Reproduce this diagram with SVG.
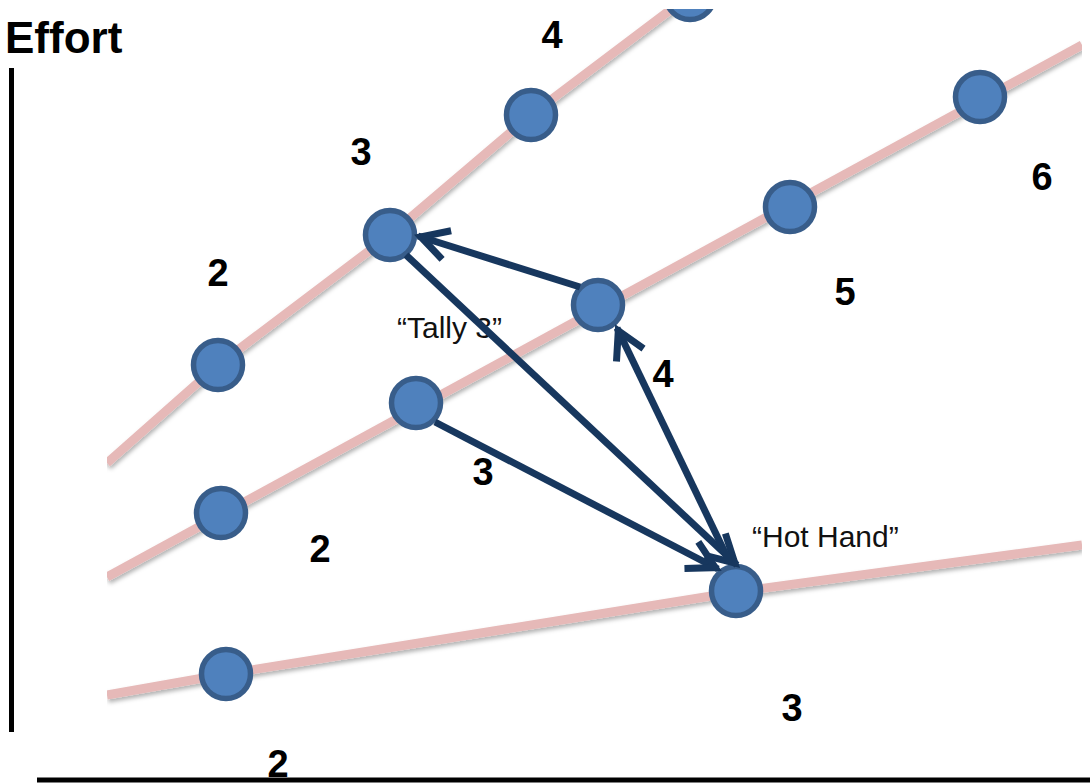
<svg xmlns="http://www.w3.org/2000/svg" width="1090" height="783" viewBox="0 0 1090 783">
  <style>
    .track { fill: none; stroke: #e6b9b8; stroke-width: 9; filter: url(#shadow); }
    .node { fill: #4f81bd; stroke: #385d8a; stroke-width: 5.5; }
    .arrow { fill: none; stroke: #17375e; stroke-width: 7; marker-end: url(#head); }
    .num { font-family: "Liberation Sans", Arial, sans-serif; font-weight: bold; font-size: 38px; fill: #000; text-anchor: middle; }
    .name { font-family: "Liberation Sans", Arial, sans-serif; font-size: 30px; fill: #111; }
    .axis { stroke: #000; stroke-width: 5; fill: none; }
  </style>
  <defs>
    <filter id="shadow" x="-5%" y="-20%" width="110%" height="140%">
      <feDropShadow dx="1" dy="3" stdDeviation="2" flood-color="#000" flood-opacity="0.3"/>
    </filter>
    <clipPath id="plot">
      <rect x="107" y="9" width="975" height="774"/>
    </clipPath>
    <marker id="head" markerUnits="userSpaceOnUse" viewBox="-34 -22 40 44" markerWidth="40" markerHeight="44" refX="3" refY="0" orient="auto" overflow="visible">
      <path d="M-27,-15 L0,0 L-27,15" fill="none" stroke="#17375e" stroke-width="7" stroke-linejoin="miter"/>
    </marker>
  </defs>

  <rect width="1090" height="783" fill="#fff"/>

  <g id="axes">
    <line class="axis" x1="11.5" y1="68" x2="11.5" y2="732"/>
    <line class="axis" x1="37" y1="780" x2="1090" y2="780"/>
    <text x="5" y="53" font-family="Liberation Sans, Arial, sans-serif" font-weight="bold" font-size="44" fill="#000">Effort</text>
  </g>

  <g id="tracks" clip-path="url(#plot)">
    <polyline class="track" points="107,463 218,365 390,235 531,115 690,-5 720,-28"/>
    <line class="track" x1="107" y1="577" x2="1082" y2="45"/>
    <polyline class="track" points="107,695 226,674 736,592 1082,545"/>
  </g>

  <g id="labels">
    <text class="num" x="552" y="48">4</text>
    <text class="num" x="361" y="165">3</text>
    <text class="num" x="218" y="286">2</text>
    <text class="num" x="1042" y="190">6</text>
    <text class="num" x="845" y="305">5</text>
    <text class="num" x="663" y="387">4</text>
    <text class="num" x="483" y="485">3</text>
    <text class="num" x="320" y="562">2</text>
    <text class="num" x="792" y="721">3</text>
    <text class="num" x="278" y="777">2</text>
    <text class="name" x="397" y="338">“Tally 3”</text>
    <text class="name" x="752" y="547">“Hot Hand”</text>
  </g>

  <g id="nodes" clip-path="url(#plot)">
    <g id="n-a1"><circle class="node" cx="218" cy="365" r="24.5"/></g>
    <g id="n-a2"><circle class="node" cx="390" cy="235" r="24.5"/></g>
    <g id="n-a3"><circle class="node" cx="531" cy="115" r="24.5"/></g>
    <g id="n-a4"><circle class="node" cx="690" cy="-5" r="24.5"/></g>
    <g id="n-b1"><circle class="node" cx="221" cy="513" r="24.5"/></g>
    <g id="n-b2"><circle class="node" cx="416" cy="403" r="24.5"/></g>
    <g id="n-b3"><circle class="node" cx="598" cy="305" r="24.5"/></g>
    <g id="n-b4"><circle class="node" cx="790" cy="207" r="24.5"/></g>
    <g id="n-b5"><circle class="node" cx="980" cy="97" r="24.5"/></g>
    <g id="n-c1"><circle class="node" cx="226" cy="674" r="24.5"/></g>
    <g id="n-c2"><circle class="node" cx="736" cy="591" r="24.5"/></g>
  </g>

  <g id="connectors">
    <line class="arrow" x1="580" y1="287" x2="418" y2="236"/>
    <line class="arrow" x1="406" y1="255" x2="737" y2="565"/>
    <line class="arrow" x1="435" y1="422" x2="718" y2="569"/>
    <line class="arrow" x1="730" y1="563" x2="617" y2="328"/>
  </g>
</svg>
